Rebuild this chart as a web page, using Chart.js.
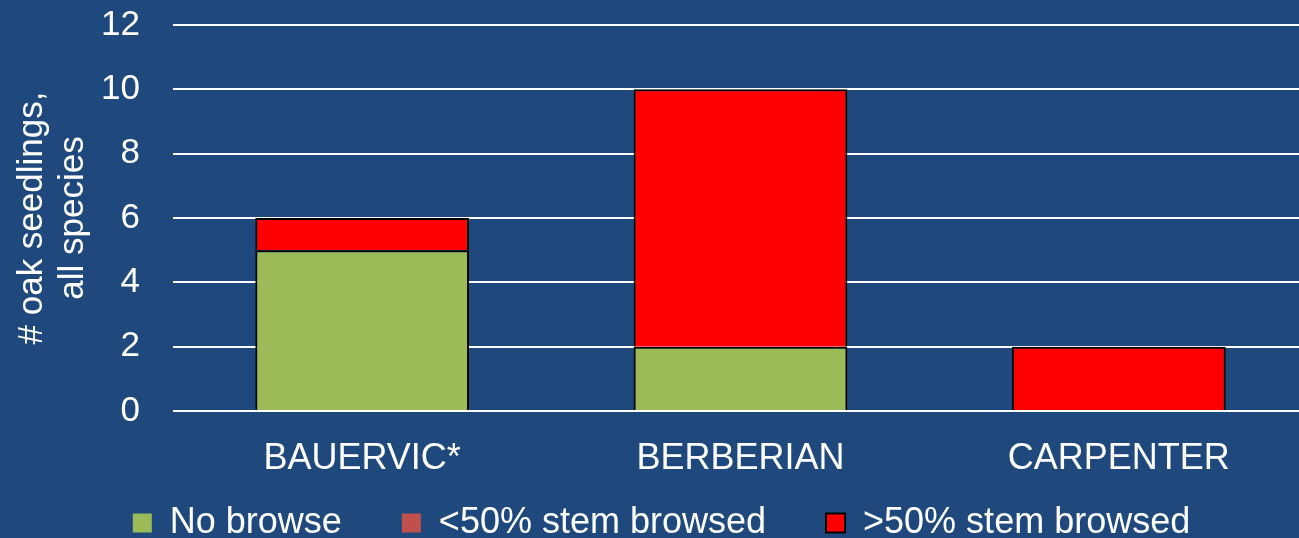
<!DOCTYPE html>
<html>
<head>
<meta charset="utf-8">
<script src="https://cdn.jsdelivr.net/npm/chart.js@4/dist/chart.umd.min.js"></script>
<style>
  html, body { margin: 0; padding: 0; background: #1F497D; overflow: hidden; }
  #wrap { position: absolute; left: 0; top: 0; width: 1308px; height: 538px; }
</style>
</head>
<body>
<div id="wrap"><canvas id="c"></canvas></div>
<script>
const categories = ['BAUERVIC*', 'BERBERIAN', 'CARPENTER'];
const seriesNames = ['No browse', '<50% stem browsed', '>50% stem browsed'];
const noBrowse = [5, 2, 0];
const under50 = [0, 0, 0];
const over50 = [1, 8, 2];
const yTicks = [0, 2, 4, 6, 8, 10, 12];
const yTitle = ['# oak seedlings,', 'all species'];

const colors = ['#9BBB59', '#C0504D', '#FF0000'];
const legendBorders = [null, null, '#000000'];
const FONT = "'Liberation Sans', Arial, sans-serif";
const GAP = '     ';

const bw = ctx => (ctx.raw ? 2 : 0);

new Chart(document.getElementById('c'), {
  type: 'bar',
  data: {
    labels: categories,
    datasets: [
      { label: seriesNames[0], data: noBrowse, backgroundColor: colors[0], borderColor: '#000000', borderWidth: bw },
      { label: seriesNames[1], data: under50, backgroundColor: colors[1], borderColor: '#000000', borderWidth: bw },
      { label: seriesNames[2], data: over50, backgroundColor: colors[2], borderColor: '#000000', borderWidth: bw }
    ]
  },
  options: {
    responsive: true,
    maintainAspectRatio: false,
    animation: false,
    layout: { padding: { left: 15, top: 0, right: 0, bottom: -13 } },
    datasets: { bar: { categoryPercentage: 1.0, barPercentage: 0.565 } },
    scales: {
      x: {
        stacked: true,
        grid: { display: false },
        border: { display: false },
        ticks: { color: '#FFFFFF', font: { family: FONT, size: 36 }, padding: 18 },
        afterFit: s => { s.height = 84; }
      },
      y: {
        stacked: true,
        min: 0, max: 12,
        afterBuildTicks: s => { s.ticks = yTicks.map(v => ({ value: v })); },
        grid: { color: '#FFFFFF', lineWidth: 2, drawTicks: false },
        border: { display: false },
        ticks: { color: '#FFFFFF', font: { family: FONT, size: 35 }, padding: 33 },
        title: {
          display: true,
          text: yTitle,
          color: '#FFFFFF',
          font: { family: FONT, size: 35, lineHeight: 1.171 },
          padding: { top: -3, bottom: 0 }
        },
        afterFit: s => { s.width = 158; s.paddingTop = 25; s.paddingBottom = 0; }
      }
    },
    plugins: {
      tooltip: { enabled: false },
      legend: {
        position: 'bottom',
        labels: {
          color: '#FFFFFF',
          font: { family: FONT, size: 36 },
          boxWidth: 19,
          boxHeight: 19,
          padding: 10,
          generateLabels: chart => chart.data.datasets.map((ds, i) => ({
            text: ds.label + (i < chart.data.datasets.length - 1 ? GAP : ''),
            fillStyle: colors[i],
            strokeStyle: legendBorders[i] || colors[i],
            lineWidth: legendBorders[i] ? 2 : 0,
            fontColor: '#FFFFFF',
            hidden: false,
            datasetIndex: i
          }))
        }
      }
    }
  }
});
</script>
</body>
</html>
